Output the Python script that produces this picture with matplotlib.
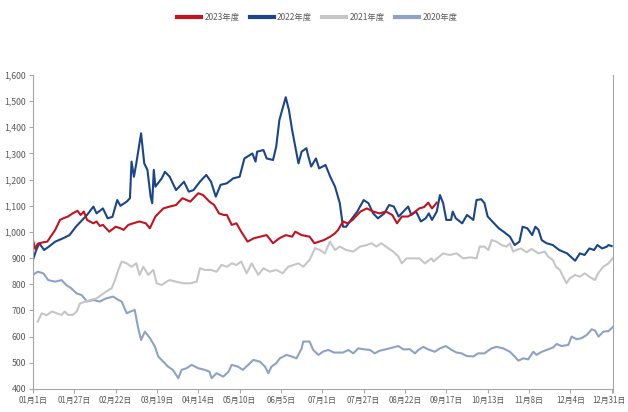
import matplotlib
matplotlib.use('Agg')
import matplotlib.pyplot as plt
import matplotlib.transforms as mtransforms
from matplotlib.ticker import FuncFormatter

plt.rcParams['font.family'] = ['Noto Sans CJK SC', 'DejaVu Sans']

# day of year (0 = Jan 1, leap-year axis) and values
d2023 = [0, 1.5, 3, 6, 9, 14, 17, 19, 22, 25, 28, 30, 32, 34, 38, 40, 42, 44, 46, 48,
         52, 55, 57, 60, 63, 67, 71, 73.5, 77, 82, 86, 90, 94, 99, 101, 104, 107, 111,
         114, 117, 120, 122, 125, 128, 131, 135, 139, 143, 147, 151, 155, 159, 163, 165,
         169, 174, 177, 183, 187, 190, 192, 195, 198, 201, 206, 210, 214, 218, 222, 226,
         229, 232, 236, 239, 243, 246, 248.6, 251, 254]
v2023 = [968, 935, 955, 960, 963, 1008, 1046, 1052, 1059, 1071, 1081, 1065, 1078, 1046,
         1033, 1040, 1023, 1027, 1014, 1001, 1020, 1014, 1008, 1027, 1033, 1040, 1033, 1014,
         1059, 1090, 1097, 1103, 1129, 1116, 1129, 1148, 1141, 1116, 1103, 1071, 1065, 1065,
         1027, 1033, 1001, 963, 976, 982, 988, 957, 976, 988, 982, 1001, 988, 982, 957, 969,
         982, 995, 1008, 1040, 1033, 1046, 1078, 1090, 1078, 1071, 1078, 1065, 1033, 1059,
         1059, 1071, 1090, 1095, 1112, 1090, 1112]

d2022 = [0, 2, 4, 7, 10, 14, 19, 23, 27, 31, 34, 38, 40, 44, 47, 50, 53, 55, 59, 61, 62,
         63.5, 65, 68, 70, 72, 74, 75, 76, 77, 81, 83, 86, 90, 95, 98, 101, 105, 109, 112,
         115, 118, 122, 126, 130, 133, 138, 140, 141, 145, 147, 151, 153, 155, 159, 161,
         163, 165, 167, 169, 172, 173, 175, 178, 180, 184, 187, 190, 193, 195, 197, 200,
         204, 208, 211, 214, 217, 221, 224, 227, 230, 233, 236, 238, 241, 244, 247, 249,
         251, 254, 256, 258, 260, 263, 264, 266, 270, 273, 277, 279, 282, 284, 286, 290,
         293, 296, 300, 303, 306, 308, 311, 314, 316, 318, 320, 323, 327, 331, 336, 341,
         344, 347, 350, 353, 355, 358, 361, 362, 364]
v2022 = [893, 930, 957, 931, 944, 963, 976, 988, 1020, 1046, 1065, 1097, 1071, 1090, 1052,
         1058, 1122, 1100, 1116, 1129, 1269, 1211, 1262, 1377, 1262, 1237, 1135, 1110, 1237,
         1173, 1205, 1230, 1211, 1160, 1192, 1154, 1160, 1192, 1218, 1192, 1135, 1180, 1186,
         1205, 1211, 1281, 1300, 1269, 1307, 1313, 1281, 1275, 1326, 1428, 1515, 1466, 1390,
         1326, 1262, 1307, 1320, 1294, 1250, 1281, 1243, 1256, 1211, 1173, 1110, 1020, 1020,
         1046, 1078, 1122, 1110, 1071, 1052, 1071, 1103, 1097, 1059, 1078, 1097, 1065, 1078,
         1040, 1052, 1071, 1046, 1078, 1141, 1110, 1046, 1046, 1078, 1052, 1033, 1065, 1046,
         1122, 1125, 1110, 1059, 1033, 1014, 1001, 982, 950, 963, 1020, 1014, 988, 1020, 1008,
         969, 957, 950, 931, 918, 890, 918, 912, 937, 931, 950, 937, 944, 950, 946]

d2021 = [3, 5.5, 8.6, 12, 15, 18, 20, 22, 25, 27.5, 29.6, 33, 36, 40, 43, 46, 49.5, 51.6,
         53.7, 55.8, 59, 62, 65, 67, 69.4, 72.5, 75.7, 77.8, 81, 84, 86, 90, 94.5, 99, 103,
         105, 108, 112, 115.5, 118.6, 122, 125, 128, 131, 134.4, 137.6, 141.7, 145, 149, 153,
         157, 160.6, 164, 167, 170, 174, 177.4, 180.5, 183.6, 186.8, 190, 193, 197, 201.5,
         205.7, 210, 213, 216, 219, 222, 226.6, 229.8, 232, 235, 239, 243, 246.5, 250.7, 252,
         255, 258, 262, 266.5, 270.6, 275, 279, 281, 284, 286.4, 288.5, 291.6, 294.7, 298,
         300, 302, 304, 307, 310.5, 313.6, 318, 322, 324, 327, 329, 331.4, 333.5, 335.6,
         337.7, 341, 344, 347, 350, 353.5, 355.5, 358.7, 362, 364.6]
v2021 = [657, 689, 682, 696, 689, 683, 696, 683, 683, 696, 727, 734, 740, 746, 759, 772, 785,
         816, 855, 887, 880, 867, 880, 836, 867, 836, 855, 804, 797, 810, 816, 810, 804, 804,
         810, 861, 855, 855, 848, 874, 867, 880, 874, 887, 842, 880, 836, 861, 848, 855, 842,
         867, 874, 880, 867, 893, 938, 931, 918, 963, 931, 944, 931, 925, 944, 950, 957, 944,
         957, 944, 925, 906, 880, 899, 899, 899, 880, 899, 887, 903, 918, 912, 918, 899, 903,
         899, 944, 944, 931, 969, 963, 950, 944, 957, 925, 931, 937, 922, 935, 918, 925, 906,
         893, 867, 855, 829, 804, 823, 836, 829, 842, 829, 816, 842, 867, 880, 899]

d2020 = [0, 3, 6.5, 9.6, 14, 18, 21, 24, 27.5, 30.6, 34, 38, 42, 46, 50.5, 53.7, 55.8, 59,
         61, 64, 66, 68, 70.4, 73.6, 76.7, 78.8, 82, 85, 88, 91.4, 93.5, 96.6, 99.8, 104,
         108, 111, 112.4, 115.5, 119.7, 123, 125, 129, 132, 135.4, 138.6, 142.8, 146, 148,
         150, 153, 155.3, 159.5, 162.7, 165.8, 169, 170, 174, 176.3, 179.5, 182.6, 185.7,
         189.5, 195, 198.4, 201.5, 204.6, 208.8, 212, 215, 218, 222.4, 229.8, 233, 237,
         240.3, 242.4, 245.5, 248.6, 252.8, 256, 259.7, 263.3, 266.5, 269.6, 272.7, 277, 280,
         284, 288.4, 291.6, 295.8, 300, 303, 305.3, 308.4, 311.5, 314.7, 316.8, 320, 324,
         327.3, 329.4, 332.5, 336.7, 338.8, 342, 345, 348.3, 351.5, 353.6, 355.7, 358.8, 362,
         365]
v2020 = [836, 848, 842, 816, 810, 816, 797, 785, 765, 759, 734, 740, 734, 746, 753, 740, 734,
         689, 695, 702, 638, 587, 619, 594, 562, 524, 504, 485, 473, 441, 473, 479, 492, 479,
         473, 466, 441, 460, 447, 466, 492, 485, 473, 492, 511, 504, 485, 460, 485, 498, 517,
         530, 524, 517, 555, 581, 581, 549, 530, 543, 549, 539, 539, 549, 536, 555, 551, 549,
         536, 546, 552, 564, 551, 552, 536, 549, 561, 551, 542, 555, 564, 549, 539, 536, 526,
         524, 536, 536, 555, 561, 555, 542, 524, 508, 517, 513, 542, 530, 542, 551, 559, 572,
         564, 568, 600, 590, 594, 606, 628, 623, 600, 619, 621, 638]

tick_days = [0, 26, 52, 78, 104, 130, 156, 182, 208, 234, 260, 286, 312, 338, 365]
tick_labels = ['01月1日', '01月27日', '02月22日', '03月19日', '04月14日', '05月10日',
               '06月5日', '07月1日', '07月27日', '08月22日', '09月17日', '10月13日',
               '11月8日', '12月4日', '12月31日']

fig = plt.figure(figsize=(6.28, 4.12), dpi=100)
ax = fig.add_axes([0.0525, 0.056, 0.924, 0.762])

ax.plot(d2020, v2020, color='#8EA2C6', lw=1.5, label='2020年度')
ax.plot(d2021, v2021, color='#C6C6C6', lw=1.5, label='2021年度')
ax.plot(d2022, v2022, color='#1A4589', lw=1.5, label='2022年度')
ax.plot(d2023, v2023, color='#C0141E', lw=1.5, label='2023年度')

ax.set_xlim(0, 365)
ax.set_ylim(400, 1600)
ax.set_yticks(range(400, 1601, 100))
ax.yaxis.set_major_formatter(FuncFormatter(lambda v, p: f'{int(v):,}'))
ax.set_xticks(tick_days)
ax.set_xticklabels(tick_labels)
ax.set_xticks([364], minor=True)

ax.spines['top'].set_visible(False)
for s in ['left', 'bottom', 'right']:
    ax.spines[s].set_color('#A6A6A6')
    ax.spines[s].set_linewidth(0.8)
ax.tick_params(axis='both', which='both', direction='out', length=3, width=0.8,
               color='#A6A6A6', labelcolor='#595959', pad=2)
ax.tick_params(axis='y', labelsize=6.3)
ax.tick_params(axis='x', which='major', labelsize=5.7)

# nudge the last date label so it stays inside the figure
last = ax.get_xticklabels()[-1]
last.set_transform(last.get_transform() +
                   mtransforms.ScaledTranslation(-4 / 100, 0, fig.dpi_scale_trans))

handles, labels = ax.get_legend_handles_labels()
order = [3, 2, 1, 0]
fig.legend([handles[i] for i in order], [labels[i] for i in order],
           loc='center', bbox_to_anchor=(0.505, 0.958), ncol=4, frameon=False,
           fontsize=6, handlelength=2.9, handletextpad=0.4, columnspacing=1.2,
           labelcolor='#595959')
for line in fig.legends[0].get_lines():
    line.set_linewidth(3)

fig.savefig('out.png', dpi=100)
